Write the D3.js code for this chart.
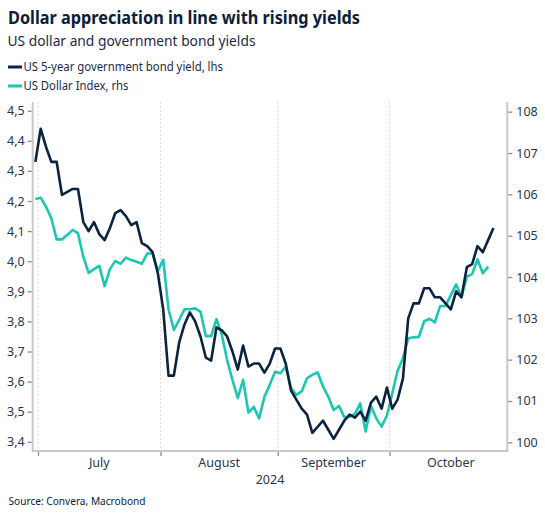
<!DOCTYPE html>
<html><head><meta charset="utf-8">
<script src="https://cdn.jsdelivr.net/npm/d3@7"></script>
<style>body{margin:0;background:#fff}svg{display:block}</style>
</head><body><svg id="c" width="545" height="519"></svg>
<script>
// ---- data ----
const title = "Dollar appreciation in line with rising yields";
const subtitle = "US dollar and government bond yields";
const source = "Source: Convera, Macrobond";
const seriesNames = ["US 5-year government bond yield, lhs", "US Dollar Index, rhs"];
const firstDate = "2024-06-28";   // first business day shown
const lastDate = "2024-10-31";
const monthNames = ["July","August","September","October"];
const yearLabel = "2024";
const leftTicks = [3.4,3.5,3.6,3.7,3.8,3.9,4.0,4.1,4.2,4.3,4.4,4.5];
const rightTicks = [100,101,102,103,104,105,106,107,108];
// US 5y yield, one value per business day
const yieldVals = [4.33,4.44,4.38,4.33,4.33,4.22,4.23,4.24,4.24,4.13,4.10,4.13,4.09,4.07,4.11,4.16,4.17,4.15,4.12,4.13,4.06,4.05,4.03,3.96,3.84,
3.62,3.62,3.73,3.79,3.83,3.80,3.75,3.68,3.67,3.78,3.77,3.75,3.70,3.64,3.72,3.65,3.66,3.66,3.63,3.66,3.71,3.71,
3.66,3.57,3.54,3.51,3.49,3.43,3.45,3.47,3.44,3.41,3.44,3.47,3.49,3.48,3.50,3.47,3.53,3.55,3.51,3.58,3.51,3.54,
3.61,3.81,3.86,3.86,3.91,3.91,3.88,3.88,3.86,3.84,3.90,3.88,3.98,3.99,4.05,4.03,4.07,4.11];
// US Dollar Index, one value per business day
const dxyVals = [105.89,105.92,105.70,105.42,104.91,104.91,105.02,105.14,105.06,104.49,104.10,104.19,104.27,103.78,104.19,104.39,104.32,104.47,104.41,104.37,104.32,104.57,104.57,104.14,104.42,
103.22,102.72,102.96,103.22,103.22,103.24,103.16,102.57,102.57,102.98,102.60,101.99,101.51,101.07,101.51,100.72,100.86,100.58,101.10,101.39,101.71,101.67,
101.83,101.31,101.15,101.23,101.55,101.63,101.69,101.35,101.10,100.78,100.88,100.61,100.62,100.69,100.94,100.26,100.88,100.58,100.38,100.65,101.18,101.73,
102.03,102.52,102.54,102.55,102.93,102.99,102.90,103.30,103.30,103.56,103.82,103.52,104.01,104.07,104.43,104.09,104.25];

// ---- build ----
const colDark = "#0c2340", colTeal = "#1cc7b1", txt = "#1b2a4a";
const svg = d3.select("#c");
const font = "'Noto Sans', 'Open Sans', sans-serif";

// business days
const parse = d3.timeParse("%Y-%m-%d");
const days = d3.timeDay.range(parse(firstDate), d3.timeDay.offset(parse(lastDate),1))
  .filter(d => d.getDay() !== 0 && d.getDay() !== 6);

const L = 32.7, R = 507.3, T = 102, B = 451;
const x = d3.scaleLinear().domain([-0.5, 88.6]).range([L, R]);
const yL = d3.scaleLinear().domain([3.4, 4.5]).range([441.8, 110.7]);
const yR = d3.scaleLinear().domain([100, 108]).range([442.3, 111.7]);

// titles
svg.append("text").attr("x",8).attr("y",23.5).text(title)
  .attr("font-family",font).attr("font-weight","bold").attr("font-size",17).attr("fill","#0b1d3a")
  .attr("textLength",352).attr("lengthAdjust","spacingAndGlyphs");
svg.append("text").attr("x",7.5).attr("y",46).text(subtitle)
  .attr("font-family",font).attr("font-size",14.5).attr("fill",txt)
  .attr("textLength",248).attr("lengthAdjust","spacingAndGlyphs");
// legend
const leg = svg.append("g");
[[colDark,67],[colTeal,86]].forEach(([c,yy],i)=>{
  leg.append("line").attr("x1",8).attr("x2",22).attr("y1",yy).attr("y2",yy).attr("stroke",c).attr("stroke-width",3);
  leg.append("text").attr("x",23.5).attr("y",yy+4.3).text(seriesNames[i])
    .attr("font-family",font).attr("font-size",12.5).attr("fill",txt)
    .attr("textLength", i===0?199.5:105).attr("lengthAdjust","spacingAndGlyphs");
});

// month boundaries
const monthStarts = monthNames.map(m => days.findIndex(d => d3.timeFormat("%B")(d) === m));
const grid = svg.append("g");
monthStarts.forEach(i=>{
  grid.append("line").attr("x1",x(i-0.5)).attr("x2",x(i-0.5)).attr("y1",T).attr("y2",B)
    .attr("stroke","#cfcfcf").attr("stroke-width",1).attr("stroke-dasharray","1.5,2.5");
});

// axes lines
svg.append("line").attr("x1",L).attr("x2",L).attr("y1",T).attr("y2",B).attr("stroke","#c9c9c9").attr("stroke-width",2);
svg.append("line").attr("x1",R).attr("x2",R).attr("y1",T).attr("y2",B).attr("stroke","#c9c9c9").attr("stroke-width",2);
svg.append("line").attr("x1",L-1).attr("x2",R+1).attr("y1",B).attr("y2",B).attr("stroke","#c9c9c9").attr("stroke-width",2);

const fmtL = v => d3.format(".1f")(v).replace(".",",");
const gL = svg.append("g").attr("transform",`translate(${L-1},0)`)
  .call(d3.axisLeft(yL).tickValues(leftTicks).tickFormat(fmtL).tickSize(4).tickPadding(3));
const gR = svg.append("g").attr("transform",`translate(${R+1},0)`)
  .call(d3.axisRight(yR).tickValues(rightTicks).tickSize(4).tickPadding(4));
[gL,gR].forEach(g=>{
  g.select(".domain").remove();
  g.selectAll(".tick line").attr("stroke","#8a8a8a").attr("stroke-width",1.3);
  g.selectAll(".tick text").attr("font-family",font).attr("font-size",12.5).attr("fill","#2a3550");
});

// bottom ticks & labels
const gB = svg.append("g").attr("transform",`translate(0,${B+1})`)
  .call(d3.axisBottom(x).tickValues(monthStarts.map(i=>i-0.5)).tickSize(4).tickFormat(""));
gB.select(".domain").remove();
gB.selectAll(".tick line").attr("stroke","#8a8a8a").attr("stroke-width",1.3);
monthNames.forEach((m,k)=>{
  const s = monthStarts[k]-0.5;
  const e = k < monthNames.length-1 ? monthStarts[k+1]-0.5 : days.length-0.5;
  svg.append("text").attr("x",x((s+e)/2)).attr("y",467).attr("text-anchor","middle").text(m)
    .attr("font-family",font).attr("font-size",12.5).attr("fill","#2a3550");
});
svg.append("text").attr("x",(L+R)/2).attr("y",484).attr("text-anchor","middle").text(yearLabel)
  .attr("font-family",font).attr("font-size",12.5).attr("fill","#2a3550");

// source
svg.append("text").attr("x",8.5).attr("y",505).text(source)
  .attr("font-family",font).attr("font-size",10.5).attr("fill","#0b1d3a")
  .attr("textLength",137).attr("lengthAdjust","spacingAndGlyphs");

// lines
const lineL = d3.line().x((d,i)=>x(i)).y(d=>yL(d));
const lineR = d3.line().x((d,i)=>x(i)).y(d=>yR(d));
svg.append("path").datum(dxyVals).attr("d",lineR).attr("fill","none").attr("stroke",colTeal).attr("stroke-width",2.6).attr("stroke-linejoin","round");
svg.append("path").datum(yieldVals).attr("d",lineL).attr("fill","none").attr("stroke",colDark).attr("stroke-width",2.6).attr("stroke-linejoin","round");
</script></body></html>
